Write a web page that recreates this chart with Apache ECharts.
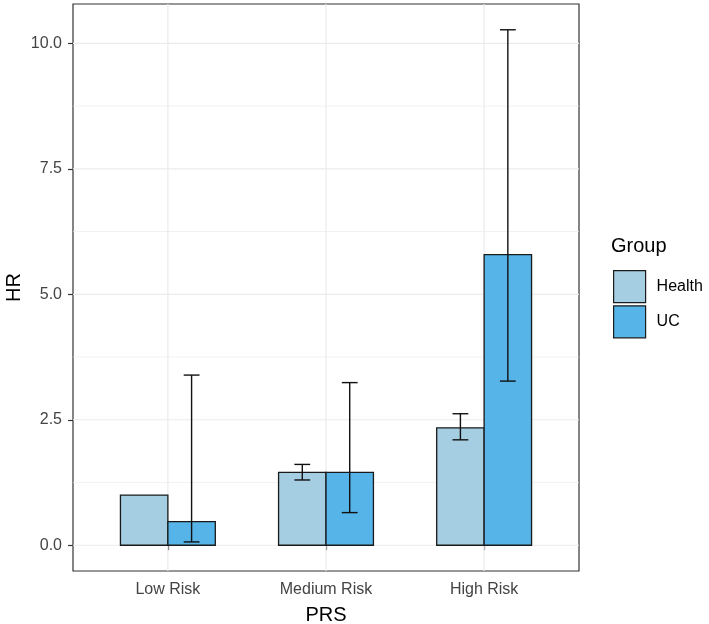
<!DOCTYPE html>
<html>
<head>
<meta charset="utf-8">
<script src="https://cdn.jsdelivr.net/npm/echarts@6/dist/echarts.min.js"></script>
<style>html,body{margin:0;padding:0;background:#fff;}#c{width:709px;height:624px;}</style>
</head>
<body>
<div id="c"></div>
<script>
const categories = ['Low Risk', 'Medium Risk', 'High Risk'];
const groups = ['Health', 'UC'];
const healthHR = [1.00, 1.45, 2.34];
const healthLow = [null, 1.30, 2.10];
const healthHigh = [null, 1.61, 2.62];
const ucHR = [0.47, 1.45, 5.79];
const ucLow = [0.066, 0.65, 3.27];
const ucHigh = [3.39, 3.24, 10.27];
const yTicks = [0, 2.5, 5, 7.5, 10];
const yMinorTicks = [1.25, 3.75, 6.25, 8.75];
const xTicks = [1, 2, 3];

const FONT = 'Liberation Sans, Arial, sans-serif';
const colors = ['#a6cee3', '#56b4e8'];
const dodge = 0.3;

function barData(vals, lows, highs, offset) {
  return vals.map((v, i) => [i + 1 + offset, v, lows[i], highs[i]]);
}

function renderBar(params, api) {
  const x = api.value(0), y = api.value(1);
  const p0 = api.coord([x - dodge / 2, 0]);
  const p1 = api.coord([x + dodge / 2, y]);
  return {
    type: 'rect',
    shape: { x: p0[0], y: p1[1], width: p1[0] - p0[0], height: p0[1] - p1[1] },
    style: { fill: api.visual('color'), stroke: '#1a1a1a', lineWidth: 1.3 }
  };
}

function renderErr(params, api) {
  const x = api.value(0), lo = api.value(2), hi = api.value(3);
  if (lo == null || hi == null || isNaN(lo) || isNaN(hi)) return null;
  const w = 0.05;
  const top = api.coord([x, hi]), bot = api.coord([x, lo]);
  const l = api.coord([x - w, hi])[0], r = api.coord([x + w, hi])[0];
  const st = { stroke: '#111', lineWidth: 1.4 };
  return {
    type: 'group',
    children: [
      { type: 'line', shape: { x1: top[0], y1: top[1], x2: bot[0], y2: bot[1] }, style: st },
      { type: 'line', shape: { x1: l, y1: top[1], x2: r, y2: top[1] }, style: st },
      { type: 'line', shape: { x1: l, y1: bot[1], x2: r, y2: bot[1] }, style: st }
    ]
  };
}

function renderHGrid(width) {
  return function (params, api) {
    const cs = params.coordSys;
    const y = api.coord([1, api.value(0)])[1];
    return { type: 'line', shape: { x1: cs.x, y1: y, x2: cs.x + cs.width, y2: y }, style: { stroke: '#ebebeb', lineWidth: width }, silent: true };
  };
}
function renderVGrid(params, api) {
  const cs = params.coordSys;
  const x = api.coord([api.value(0), 0])[0];
  return { type: 'line', shape: { x1: x, y1: cs.y, x2: x, y2: cs.y + cs.height }, style: { stroke: '#ebebeb', lineWidth: 1.2 }, silent: true };
}

const allHigh = ucHigh.concat(healthHigh).filter(v => v != null);
const dataMax = Math.max.apply(null, allHigh);
const pad = dataMax * 0.05;

const chart = echarts.init(document.getElementById('c'), null, { renderer: 'canvas' });
chart.setOption({
  backgroundColor: '#fff',
  animation: false,
  textStyle: { fontFamily: FONT },
  grid: { left: 73, right: 130, top: 4, bottom: 53, containLabel: false, outerBoundsMode: 'none', show: true, borderColor: '#333', borderWidth: 1.2, backgroundColor: '#fff' },
  title: { text: 'Group', left: 611, top: 236, padding: 0, textStyle: { fontFamily: FONT, fontSize: 20, fontWeight: 'normal', color: '#000' } },
  legend: {
    orient: 'vertical', left: 613, top: 270, padding: 0, itemGap: 2,
    itemWidth: 32, itemHeight: 32, icon: 'rect',
    data: groups,
    itemStyle: { borderColor: '#1a1a1a', borderWidth: 1.2 },
    textStyle: { fontFamily: FONT, fontSize: 16, color: '#000', padding: [0, 0, 0, 6] }
  },
  xAxis: {
    type: 'value', min: 0.4, max: 3.6,
    name: 'PRS', nameLocation: 'middle', nameGap: 34, nameMoveOverlap: false,
    nameTextStyle: { fontFamily: FONT, fontSize: 20, color: '#000' },
    axisLine: { show: false },
    axisTick: { show: true, customValues: xTicks, length: 5, lineStyle: { color: '#333', width: 1.2 } },
    axisLabel: { customValues: xTicks, margin: 11, fontFamily: FONT, fontSize: 16, color: '#444', formatter: v => categories[Math.round(v) - 1] || '' },
    splitLine: { show: false }
  },
  yAxis: {
    type: 'value', min: -pad, max: dataMax + pad,
    name: 'HR', nameLocation: 'middle', nameGap: 49, nameMoveOverlap: false,
    nameTextStyle: { fontFamily: FONT, fontSize: 20, color: '#000' },
    axisLine: { show: false },
    axisTick: { show: true, customValues: yTicks, length: 5, lineStyle: { color: '#333', width: 1.2 } },
    axisLabel: { customValues: yTicks, margin: 11, fontFamily: FONT, fontSize: 16, color: '#444', formatter: v => v.toFixed(1) },
    splitLine: { show: false }
  },
  series: [
    { type: 'custom', name: '_minor', data: yMinorTicks.map(v => [v]), renderItem: renderHGrid(0.7), silent: true, z: 1, encode: { y: 0 } },
    { type: 'custom', name: '_major', data: yTicks.map(v => [v]), renderItem: renderHGrid(1.2), silent: true, z: 1, encode: { y: 0 } },
    { type: 'custom', name: '_vmajor', data: xTicks.map(v => [v]), renderItem: renderVGrid, silent: true, z: 1, encode: { x: 0 } },
    { type: 'custom', name: 'Health', data: barData(healthHR, healthLow, healthHigh, -dodge / 2), renderItem: renderBar, itemStyle: { color: colors[0], borderColor: '#1a1a1a', borderWidth: 1.2 }, z: 2, encode: { x: 0, y: 1 } },
    { type: 'custom', name: 'UC', data: barData(ucHR, ucLow, ucHigh, dodge / 2), renderItem: renderBar, itemStyle: { color: colors[1], borderColor: '#1a1a1a', borderWidth: 1.2 }, z: 2, encode: { x: 0, y: 1 } },
    { type: 'custom', name: '_errH', data: barData(healthHR, healthLow, healthHigh, -dodge / 2), renderItem: renderErr, z: 3, encode: { x: 0, y: [2, 3] } },
    { type: 'custom', name: '_errU', data: barData(ucHR, ucLow, ucHigh, dodge / 2), renderItem: renderErr, z: 3, encode: { x: 0, y: [2, 3] } }
  ]
});
</script>
</body>
</html>
